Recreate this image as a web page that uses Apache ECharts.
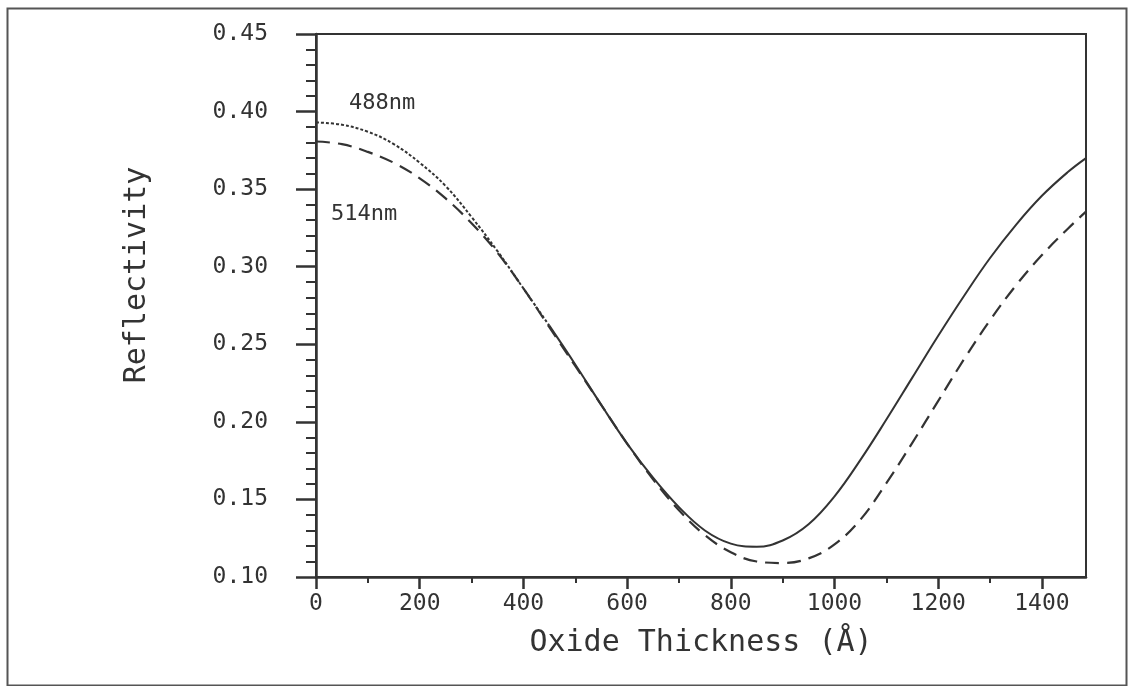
<!DOCTYPE html>
<html>
<head>
<meta charset="utf-8">
<script src="https://cdn.jsdelivr.net/npm/echarts@6/dist/echarts.min.js"></script>
<style>
  html, body { margin: 0; padding: 0; background: #fff; }
  #chart { width: 1129px; height: 686px; }
</style>
</head>
<body>
<div id="chart"></div>
<script>
// oxide thickness (Å) and reflectivity
const thickness = [0, 50, 100, 150, 200, 250, 300, 350, 400, 450, 500, 550, 600, 650, 700, 750,
  800, 850, 900, 950, 1000, 1050, 1100, 1150, 1200, 1250, 1300, 1350, 1400, 1450, 1485]
const r488 = [0.393, 0.3915, 0.387, 0.379, 0.367, 0.352, 0.332, 0.310, 0.286, 0.262, 0.237, 0.211,
  0.186, 0.164, 0.145, 0.130, 0.1215, 0.1195, 0.1235, 0.134, 0.152, 0.1755, 0.2015, 0.2285, 0.2555,
  0.2813, 0.3056, 0.327, 0.3457, 0.361, 0.370]
const r514 = [0.3807, 0.379, 0.374, 0.367, 0.357, 0.344, 0.328, 0.309, 0.286, 0.261, 0.236, 0.211,
  0.186, 0.163, 0.143, 0.127, 0.116, 0.110, 0.109, 0.112, 0.121, 0.137, 0.1605, 0.1865, 0.2135,
  0.2405, 0.2655, 0.288, 0.3075, 0.3245, 0.3355]
const xMajorTicks = [0, 200, 400, 600, 800, 1000, 1200, 1400]
const xMinorTicks = [100, 300, 500, 700, 900, 1100, 1300]
const curveLabels = ['488nm', '514nm']
const yTitle = 'Reflectivity'

const ink = '#333'
const font = 'DejaVu Sans Mono'
const splitIdx = 9 // 488 curve is plotted dotted up to here

const pairs = (ys) => thickness.map((x, i) => [x, ys[i]])

const chart = echarts.init(document.getElementById('chart'))

const option = {
  backgroundColor: '#fff',
  animation: false,
  grid: { left: 316, top: 34, right: 43, bottom: 109, show: true, borderColor: ink, borderWidth: 2, backgroundColor: 'transparent' },
  xAxis: [
    {
      type: 'value', min: 0, max: 1485,
      name: 'Oxide Thickness (Å)', nameLocation: 'middle', nameGap: 51,
      nameTextStyle: { fontFamily: font, fontSize: 30, color: ink },
      axisLine: { show: true, lineStyle: { color: ink, width: 2.5 } },
      axisTick: { show: true, length: 12, customValues: xMajorTicks, lineStyle: { color: ink, width: 2.5 } },
      axisLabel: { customValues: xMajorTicks, margin: 16, fontFamily: font, fontSize: 23, color: ink, formatter: (v) => String(v) },
      splitLine: { show: false }
    },
    {
      type: 'value', min: 0, max: 1485, position: 'bottom',
      axisLine: { show: false },
      axisTick: { show: true, length: 6, customValues: xMinorTicks, lineStyle: { color: ink, width: 2 } },
      axisLabel: { show: false },
      splitLine: { show: false }
    }
  ],
  yAxis: {
    type: 'value', min: 0.10, max: 0.45, interval: 0.05,
    axisLine: { show: true, lineStyle: { color: ink, width: 2.5 } },
    axisTick: { show: true, length: 20, lineStyle: { color: ink, width: 2.5 } },
    minorTick: { show: true, splitNumber: 5, length: 10, lineStyle: { color: ink, width: 2 } },
    axisLabel: { margin: 48, fontFamily: font, fontSize: 23, color: ink, formatter: (v) => v.toFixed(2) },
    splitLine: { show: false }
  },
  series: [
    {
      name: '488nm', type: 'line', showSymbol: false, smooth: 0.4,
      data: pairs(r488).slice(0, splitIdx + 1),
      lineStyle: { color: ink, width: 2, type: [3, 2] }
    },
    {
      name: '488nm', type: 'line', showSymbol: false, smooth: 0.4,
      data: pairs(r488).slice(splitIdx),
      lineStyle: { color: ink, width: 2 }
    },
    {
      name: '514nm', type: 'line', showSymbol: false, smooth: 0.4,
      data: pairs(r514),
      lineStyle: { color: ink, width: 2.2, type: [14, 8] }
    }
  ],
  graphic: [
    { type: 'rect', left: 5, top: 6, shape: { width: 1119, height: 677 }, style: { fill: null, stroke: '#555', lineWidth: 2 } },
    {
      type: 'text', x: 137, y: 275, rotation: Math.PI / 2,
      style: { text: yTitle, font: '30px "DejaVu Sans Mono"', fill: ink, align: 'center', verticalAlign: 'middle' }
    },
    { type: 'text', left: 349, top: 92, style: { text: curveLabels[0], font: '22px "DejaVu Sans Mono"', fill: ink } },
    { type: 'text', left: 331, top: 203, style: { text: curveLabels[1], font: '22px "DejaVu Sans Mono"', fill: ink } }
  ]
}

chart.setOption(option)
</script>
</body>
</html>
